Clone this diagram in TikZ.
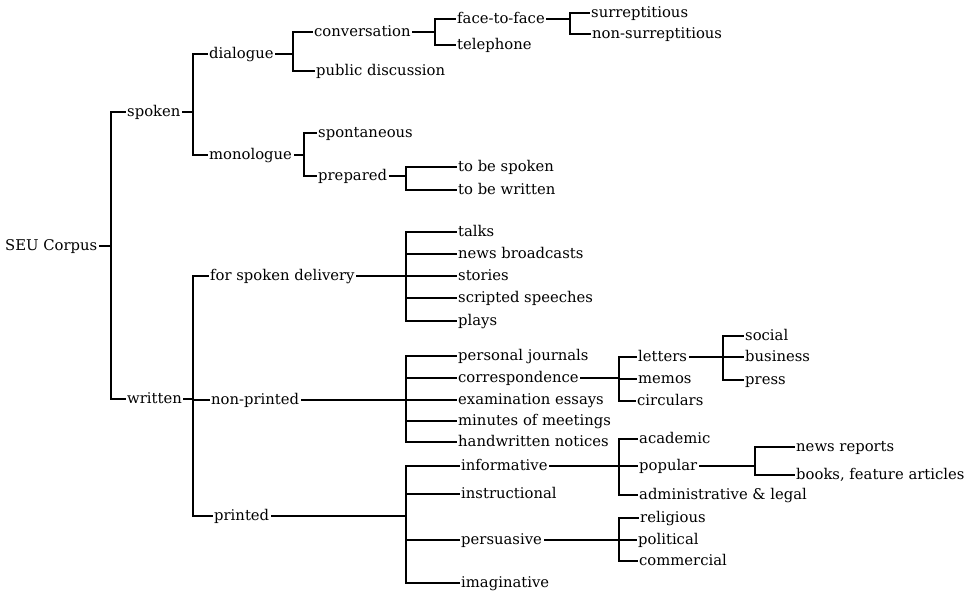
\documentclass[tikz,border=0pt]{standalone}
\usepackage{fontspec}
\setmainfont{DejaVu Serif}
\usetikzlibrary{calc}

% horizontal stub from a parent to its bar, and the bar spanning first..last child
\newcommand\treefork[4]{%
  \draw[conn] (#1.east) -- (#1.east -| #2);
  \draw[conn] (#3.west) -| (#2 |- #4.west) -- (#4.west);}
% a middle child hanging off an existing bar
\newcommand\treetwig[2]{\draw[conn] (#1 |- #2.west) -- (#2.west);}

\begin{document}
\begin{tikzpicture}[x=1pt,y=-1pt,
  lbl/.style={anchor=west,inner xsep=2pt,inner ysep=0pt,text height=8pt,text depth=0pt,
              font=\fontsize{14.8}{16}\selectfont},
  conn/.style={line width=1.2pt,line cap=rect}]
\fill[white] (0,0) rectangle (972,590);
\useasboundingbox (0,0) rectangle (972,590);

% ---- labels ----
\node[lbl] (seu) at (3,246) {SEU Corpus};
\node[lbl] (spoken) at (125,112) {spoken};
\node[lbl] (written) at (125,399) {written};
\node[lbl] (dialogue) at (207,54) {dialogue};
\node[lbl] (monologue) at (207,155) {monologue};
\node[lbl] (conversation) at (312,32) {conversation};
\node[lbl] (public) at (314,71) {public discussion};
\node[lbl] (f2f) at (455,19) {face-to-face};
\node[lbl] (telephone) at (455,45) {telephone};
\node[lbl] (surr) at (589,13) {surreptitious};
\node[lbl] (nonsurr) at (590,34) {non-surreptitious};
\node[lbl] (spont) at (316,133) {spontaneous};
\node[lbl] (prepared) at (316,176) {prepared};
\node[lbl] (tbs) at (456,167) {to be spoken};
\node[lbl] (tbw) at (456,190) {to be written};
\node[lbl] (fsd) at (208,276) {for spoken delivery};
\node[lbl] (talks) at (456,232) {talks};
\node[lbl] (news) at (456,254) {news broadcasts};
\node[lbl] (stories) at (456,276) {stories};
\node[lbl] (scripted) at (456,298) {scripted speeches};
\node[lbl] (plays) at (456,321) {plays};
\node[lbl] (nonprinted) at (209,400) {non-printed};
\node[lbl] (journals) at (456,356) {personal journals};
\node[lbl] (corresp) at (456,378) {correspondence};
\node[lbl] (exam) at (456,400) {examination essays};
\node[lbl] (minutes) at (456,421) {minutes of meetings};
\node[lbl] (notices) at (456,442) {handwritten notices};
\node[lbl] (letters) at (636,357) {letters};
\node[lbl] (memos) at (636,379) {memos};
\node[lbl] (circulars) at (635,401) {circulars};
\node[lbl] (social) at (743,336) {social};
\node[lbl] (business) at (743,357) {business};
\node[lbl] (press) at (743,380) {press};
\node[lbl] (printed) at (212,516) {printed};
\node[lbl] (informative) at (459,466) {informative};
\node[lbl] (instructional) at (459,494) {instructional};
\node[lbl] (persuasive) at (459,540) {persuasive};
\node[lbl] (imaginative) at (459,583) {imaginative};
\node[lbl] (academic) at (637,439) {academic};
\node[lbl] (popular) at (637,466) {popular};
\node[lbl] (admin) at (637,495) {administrative \& legal};
\node[lbl] (newsrep) at (794,447) {news reports};
\node[lbl] (books) at (794,475) {books, feature articles};
\node[lbl] (religious) at (638,518) {religious};
\node[lbl] (political) at (636,540) {political};
\node[lbl] (commercial) at (637,561) {commercial};

% ---- bar positions ----
\coordinate (bRoot) at (111,0);
\coordinate (bSpoken) at (193,0);
\coordinate (bWritten) at (193,0);
\coordinate (bDialogue) at (293,0);
\coordinate (bConv) at (435,0);
\coordinate (bF2F) at (570,0);
\coordinate (bMono) at (304,0);
\coordinate (bPrep) at (406,0);
\coordinate (bFSD) at (406,0);
\coordinate (bNP) at (406,0);
\coordinate (bCorr) at (619,0);
\coordinate (bLetters) at (723,0);
\coordinate (bPrinted) at (406,0);
\coordinate (bInfo) at (619,0);
\coordinate (bPop) at (755,0);
\coordinate (bPers) at (619,0);

% ---- connectors ----
\treefork{seu}{bRoot}{spoken}{written}
\treefork{spoken}{bSpoken}{dialogue}{monologue}
\treefork{dialogue}{bDialogue}{conversation}{public}
\treefork{conversation}{bConv}{f2f}{telephone}
\treefork{f2f}{bF2F}{surr}{nonsurr}
\treefork{monologue}{bMono}{spont}{prepared}
\treefork{prepared}{bPrep}{tbs}{tbw}
\treefork{written}{bWritten}{fsd}{printed}
\treetwig{bWritten}{nonprinted}
\treefork{fsd}{bFSD}{talks}{plays}
\treetwig{bFSD}{news}
\treetwig{bFSD}{stories}
\treetwig{bFSD}{scripted}
\treefork{nonprinted}{bNP}{journals}{notices}
\treetwig{bNP}{corresp}
\treetwig{bNP}{exam}
\treetwig{bNP}{minutes}
\treefork{corresp}{bCorr}{letters}{circulars}
\treetwig{bCorr}{memos}
\treefork{letters}{bLetters}{social}{press}
\treetwig{bLetters}{business}
\treefork{printed}{bPrinted}{informative}{imaginative}
\treetwig{bPrinted}{instructional}
\treetwig{bPrinted}{persuasive}
\treefork{informative}{bInfo}{academic}{admin}
\treetwig{bInfo}{popular}
\treefork{popular}{bPop}{newsrep}{books}
\treefork{persuasive}{bPers}{religious}{commercial}
\treetwig{bPers}{political}
\end{tikzpicture}
\end{document}
